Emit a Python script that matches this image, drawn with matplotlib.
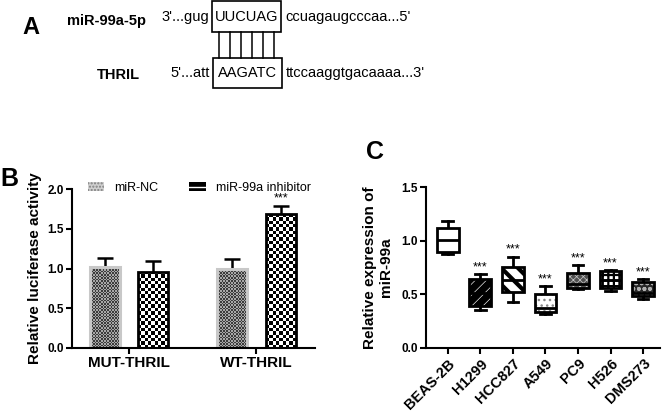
import numpy as np
import matplotlib.pyplot as plt
from matplotlib.patches import Rectangle, Patch, PathPatch
from matplotlib.lines import Line2D
from matplotlib.colors import ListedColormap

plt.rcParams["font.family"] = ["Liberation Sans", "DejaVu Sans"]

# panel A: sequences
MIR_NAME = "miR-99a-5p"
MIR_LEFT = "3'...gug"
MIR_SEED = "UUCUAG"
MIR_RIGHT = "ccuagaugcccaa...5'"
THRIL_NAME = "THRIL"
THRIL_LEFT = "5'...att"
THRIL_SEED = "AAGATC"
THRIL_RIGHT = "ttccaaggtgacaaaa...3'"

# panel B: luciferase assay
groups = ["MUT-THRIL", "WT-THRIL"]
nc_mean = [1.02, 0.99]
nc_err = [0.11, 0.13]
inh_mean = [0.96, 1.68]
inh_err = [0.13, 0.10]
inh_sig = ["", "***"]

# panel C: miR-99a expression per cell line (box stats)
cells = ["BEAS-2B", "H1299", "HCC827", "A549", "PC9", "H526", "DMS273"]
whislo = [0.875, 0.35, 0.425, 0.315, 0.55, 0.53, 0.46]
q1 = [0.897, 0.395, 0.52, 0.338, 0.556, 0.562, 0.485]
med = [1.005, 0.51, 0.63, 0.37, 0.60, 0.63, 0.51]
q3 = [1.115, 0.64, 0.758, 0.50, 0.696, 0.718, 0.618]
whishi = [1.186, 0.69, 0.85, 0.578, 0.77, 0.727, 0.64]
cell_sig = ["", "***", "***", "***", "***", "***", "***"]

W, H = 669, 413


def fx(x):
    return x / W


def fy(y):
    return 1 - y / H


fig = plt.figure(figsize=(W / 100, H / 100), dpi=100)

# ---------------- panel A ----------------
fs_seq = 10.5
fig.text(fx(22), fy(28), "A", fontsize=17, fontweight="bold", va="center")
fig.text(fx(67), fy(21), MIR_NAME, fontsize=fs_seq, fontweight="bold", va="center")
fig.text(fx(209), fy(17), MIR_LEFT, fontsize=fs_seq, ha="right", va="center")
fig.text(fx(246.5), fy(17), MIR_SEED, fontsize=fs_seq, ha="center", va="center")
fig.text(fx(285), fy(17), MIR_RIGHT, fontsize=fs_seq, va="center")
fig.patches.append(Rectangle((fx(212), fy(32)), 69 / W, 31 / H, transform=fig.transFigure,
                             fill=False, lw=1.2, ec="black"))

fig.text(fx(140), fy(75), THRIL_NAME, fontsize=fs_seq, fontweight="bold", ha="right", va="center")
fig.text(fx(210), fy(73), THRIL_LEFT, fontsize=fs_seq, ha="right", va="center")
fig.text(fx(247.5), fy(73), THRIL_SEED, fontsize=fs_seq, ha="center", va="center")
fig.text(fx(286), fy(73), THRIL_RIGHT, fontsize=fs_seq, va="center")
fig.patches.append(Rectangle((fx(213), fy(88)), 69 / W, 30 / H, transform=fig.transFigure,
                             fill=False, lw=1.2, ec="black"))

# base pairing lines
n = len(MIR_SEED)
for i in range(n):
    x = 214 + (i + 0.5) * 65 / n
    fig.lines.append(Line2D([fx(x), fx(x)], [fy(32), fy(58)], transform=fig.transFigure,
                            color="black", lw=1.1))

# ---------------- panel B ----------------
axB = fig.add_axes([fx(72), fy(348), (315 - 72) / W, (348 - 189) / H])
xg = np.arange(len(groups))
bw, off = 0.235, 0.19
axB.set_xlim(-0.45, 1.46)
axB.set_ylim(0, 2.0)


def checker_fill(ax, bar, cell, c0, c1):
    x0, y0 = bar.get_x(), bar.get_y()
    w, h = bar.get_width(), bar.get_height()
    p0 = ax.transData.transform((x0, y0))
    p1 = ax.transData.transform((x0 + w, y0 + h))
    nx = max(1, int(round((p1[0] - p0[0]) / cell)))
    ny = max(1, int(round((p1[1] - p0[1]) / cell)))
    arr = (np.add.outer(np.arange(ny), np.arange(nx)) % 2).astype(float)
    im = ax.imshow(arr, cmap=ListedColormap([c0, c1]), extent=(x0, x0 + w, y0, y0 + h),
                   origin="lower", aspect="auto", interpolation="nearest", zorder=1.5)
    im.set_clip_path(bar)


nc_bars = axB.bar(xg - off, nc_mean, bw, facecolor="none", edgecolor="#c8c8c8", lw=2.2, zorder=2)
inh_bars = axB.bar(xg + off, inh_mean, bw, facecolor="none", edgecolor="black", lw=2.0, zorder=2)
for b in nc_bars:
    checker_fill(axB, b, 1.6, "#3c3c3c", "#a8a8a8")
for b in inh_bars:
    checker_fill(axB, b, 3.3, "black", "white")

for xs, ms, es in [(xg - off, nc_mean, nc_err), (xg + off, inh_mean, inh_err)]:
    eb = axB.errorbar(xs, ms, yerr=[np.zeros(len(es)), es], fmt="none", ecolor="black",
                      elinewidth=1.8, capsize=5.5, capthick=1.8, zorder=1.8)
    for cl in eb[1]:
        if np.allclose(cl.get_ydata(), ms):
            cl.set_visible(False)

for x, m, e, s in zip(xg + off, inh_mean, inh_err, inh_sig):
    if s:
        axB.text(x, m + e + 0.1, s, ha="center", va="center", fontsize=9)

axB.set_xticks(xg)
axB.set_xticklabels(groups, fontsize=11, fontweight="bold")
axB.set_yticks([0, 0.5, 1.0, 1.5, 2.0])
axB.set_yticklabels([f"{v:.1f}" for v in [0, 0.5, 1.0, 1.5, 2.0]], fontsize=8.5, fontweight="bold")
axB.set_ylabel("Relative luciferase activity", fontsize=11, fontweight="bold", labelpad=4)
for sp in ["top", "right"]:
    axB.spines[sp].set_visible(False)
for sp in ["left", "bottom"]:
    axB.spines[sp].set_linewidth(1.5)
axB.tick_params(width=1.5, length=4, pad=2)

handles = [Patch(facecolor="#d0d0d0", edgecolor="#808080", hatch=".....", lw=0, label="miR-NC"),
           Patch(facecolor="black", edgecolor="white", hatch="--", lw=0, label="miR-99a inhibitor")]
axB.legend(handles=handles, loc="lower left", bbox_to_anchor=(0.065, 0.97), ncol=2, frameon=False,
           fontsize=9, handlelength=1.3, handleheight=0.7, handletextpad=0.8, columnspacing=2.5,
           borderaxespad=0, borderpad=0)
fig.text(fx(0), fy(179), "B", fontsize=18, fontweight="bold", va="center")

# ---------------- panel C ----------------
axC = fig.add_axes([fx(426), fy(348), (660 - 426) / W, (348 - 187) / H])
stats = [dict(whislo=a, q1=b, med=c, q3=d, whishi=e, label=l)
         for a, b, c, d, e, l in zip(whislo, q1, med, q3, whishi, cells)]
pos = np.arange(len(cells))
bp = axC.bxp(stats, positions=pos, widths=0.67, capwidths=0.33, patch_artist=True,
             showfliers=False,
             boxprops=dict(facecolor="none", edgecolor="black", lw=2, zorder=3),
             whiskerprops=dict(color="black", lw=2, zorder=2),
             capprops=dict(color="black", lw=2, zorder=2),
             medianprops=dict(color="black", lw=2, zorder=4))

# fill, hatch, hatch colour, hatch width for each box
box_styles = [("white", "", "black", 1.0),
              ("black", "///", "white", 0.45),
              ("white", "\\\\", "black", 3.0),
              ("white", "...", "#888888", 1.0),
              ("#505050", "xxxxx", "#c8c8c8", 0.5),
              ("white", "+++", "black", 1.6),
              ("#282828", "ooo", "#b0b0b0", 1.2)]
for box, (fc, hatch, hc, hlw) in zip(bp["boxes"], box_styles):
    with plt.rc_context({"hatch.linewidth": hlw}):
        hp = PathPatch(box.get_path(), transform=box.get_transform(), facecolor=fc,
                       edgecolor=hc, hatch=hatch or None, lw=0, zorder=2.5)
        if hasattr(hp, "set_hatch_linewidth"):
            hp.set_hatch_linewidth(hlw)
    axC.add_patch(hp)

for x, top, s in zip(pos, whishi, cell_sig):
    if s:
        axC.text(x, top + 0.065, s, ha="center", va="center", fontsize=9)

axC.set_xlim(-0.67, 6.52)
axC.set_ylim(0, 1.5)
axC.set_xticks(pos)
axC.set_xticklabels(cells, rotation=45, ha="right", rotation_mode="anchor",
                    fontsize=10.5, fontweight="bold")
axC.set_yticks([0, 0.5, 1.0, 1.5])
axC.set_yticklabels([f"{v:.1f}" for v in [0, 0.5, 1.0, 1.5]], fontsize=8.5, fontweight="bold")
axC.set_ylabel("Relative expression of\nmiR-99a", fontsize=11, fontweight="bold", labelpad=6)
for sp in ["top", "right"]:
    axC.spines[sp].set_visible(False)
for sp in ["left", "bottom"]:
    axC.spines[sp].set_linewidth(1.5)
axC.tick_params(width=1.5, length=4, pad=2)
fig.text(fx(366), fy(152), "C", fontsize=18, fontweight="bold", va="center")

fig.savefig("out.png", dpi=100)
